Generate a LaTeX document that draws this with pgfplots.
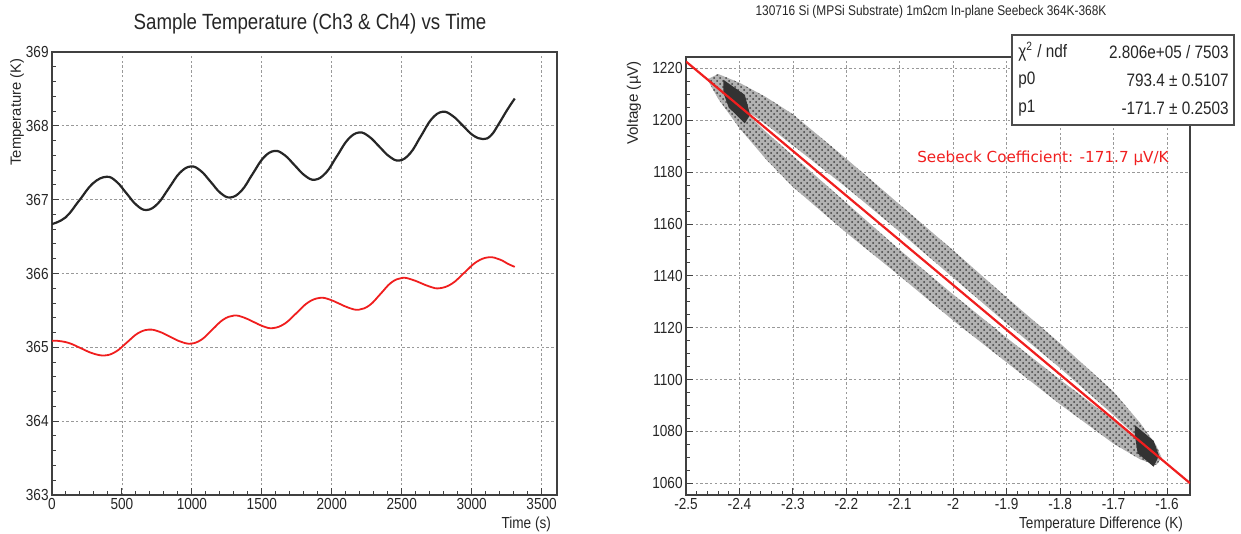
\documentclass[border=0pt]{standalone}
\usepackage{fontspec}
\setmainfont{Liberation Sans}[FakeStretch=0.85]
\newfontfamily\plainsans{Liberation Sans}
\newfontfamily\dejavu{DejaVu Sans}
\usepackage{pgfplots}
\pgfplotsset{compat=1.18}
\usetikzlibrary{patterns}
\definecolor{rootred}{RGB}{240,30,30}
\pgfplotsset{rootstyle/.style={
  scale only axis, anchor=south west,
  axis line style={black!75, line width=0.7pt},
  tick align=inside, xtick pos=lower, ytick pos=left,
  major tick length=3.6pt, minor tick length=1.8pt,
  every tick/.style={black!75, line width=0.5pt},
  grid=major,
  major grid style={black!40, line width=0.4pt, dash pattern=on 1.2pt off 1.2pt},
  tick label style={font=\fontsize{8}{9}\selectfont, text=black!85},
  xticklabel style={inner sep=1.5pt},
  yticklabel style={inner sep=1.5pt},
}}
\pgfplotstableread{
x y
-2.46 1215.78
-2.44 1217.85
-2.40 1214.48
-2.35 1208.90
-2.30 1202.31
-2.20 1185.14
-2.10 1167.47
-2.00 1149.80
-1.90 1131.63
-1.80 1113.96
-1.70 1095.29
-1.65 1083.21
-1.62 1074.55
-1.61 1069.84
-1.65 1076.71
-1.70 1086.29
-1.80 1104.46
-1.90 1121.63
-2.00 1139.30
-2.10 1156.97
-2.20 1174.14
-2.30 1190.31
-2.35 1198.40
-2.40 1205.48
-2.46 1215.78
}\upperband
\pgfplotstableread{
x y
-2.46 1215.78
-2.40 1205.48
-2.35 1195.40
-2.30 1186.31
-2.20 1168.14
-2.10 1149.97
-2.00 1132.80
-1.90 1116.13
-1.80 1099.96
-1.70 1084.29
-1.65 1076.71
-1.61 1069.84
-1.62 1067.05
-1.65 1069.21
-1.70 1075.29
-1.80 1090.46
-1.90 1106.63
-2.00 1122.80
-2.10 1139.97
-2.20 1156.64
-2.30 1174.31
-2.35 1184.90
-2.40 1196.98
-2.44 1208.35
-2.46 1215.78
}\lowerband
\begin{document}
\begin{tikzpicture}
\path[use as bounding box] (0,0) rectangle (620.5pt,267pt);
% ---------------- left panel ----------------
\begin{axis}[rootstyle, at={(26pt,19.5pt)}, width=252.5pt, height=221.5pt,
  xmin=0, xmax=3610, ymin=363, ymax=369,
  xtick={0,500,1000,1500,2000,2500,3000,3500},
  xticklabels={0,500,1000,1500,2000,2500,3000,3500},
  ytick={363,364,365,366,367,368,369},
  yticklabels={363,364,365,366,367,368,369},
  minor x tick num=4, minor y tick num=4]
\addplot[smooth, tension=0.7, black!85, line width=1.1pt] coordinates {
(0,366.67) (97,366.76) (195,366.99) (292,367.22) (389,367.31)
(461,367.244) (533,367.085) (605,366.926) (677,366.86)
(756,366.946) (835,367.155) (914,367.364) (993,367.45)
(1064,367.389) (1135,367.24) (1205,367.09) (1276,367.03)
(1355,367.122) (1433,367.345) (1512,367.568) (1591,367.66)
(1663,367.603) (1735,367.465) (1807,367.327) (1879,367.27)
(1958,367.364) (2037,367.59) (2116,367.816) (2195,367.91)
(2267,367.854) (2339,367.72) (2411,367.586) (2483,367.53)
(2560,367.627) (2637,367.86) (2714,368.093) (2791,368.19)
(2863,368.136) (2936,368.005) (3008,367.874) (3081,367.82)
(3138,367.87) (3195,368.03) (3252,368.21) (3308,368.37)};
\addplot[smooth, tension=0.7, rootred, line width=0.9pt] coordinates {
(0,365.085) (30,365.09) (117,365.061) (204,364.99) (290,364.919) (377,364.89)
(456,364.941) (535,365.065) (613,365.189) (692,365.24)
(767,365.212) (843,365.145) (918,365.078) (993,365.05)
(1070,365.106) (1146,365.24) (1223,365.374) (1300,365.43)
(1370,365.405) (1440,365.345) (1509,365.285) (1579,365.26)
(1663,365.32) (1748,365.465) (1832,365.61) (1916,365.67)
(1986,365.647) (2055,365.59) (2125,365.533) (2195,365.51)
(2272,365.573) (2349,365.725) (2425,365.877) (2502,365.94)
(2569,365.92) (2637,365.87) (2704,365.82) (2771,365.80)
(2859,365.862) (2947,366.01) (3035,366.158) (3123,366.22)
(3200,366.19) (3260,366.13) (3308,366.09)};
\end{axis}
\node[font=\fontsize{11}{12}\selectfont, text=black!85] at (155pt,255pt) {Sample Temperature (Ch3 \& Ch4) vs Time};
\node[font=\plainsans\fontsize{7.4}{8}\selectfont, rotate=90, text=black!85] at (8.5pt,211pt) {Temperature (K)};
\node[font=\fontsize{8}{9}\selectfont, anchor=east, text=black!85] at (279pt,5pt) {Time (s)};
% ---------------- right panel ----------------
\begin{axis}[rootstyle, at={(343pt,19.5pt)}, width=252pt, height=219pt,
  xmin=-2.5, xmax=-1.557, ymin=1055.5, ymax=1224.4,
  xtick={-2.5,-2.4,-2.3,-2.2,-2.1,-2.0,-1.9,-1.8,-1.7,-1.6},
  xticklabels={-2.5,-2.4,-2.3,-2.2,-2.1,-2,-1.9,-1.8,-1.7,-1.6},
  ytick={1060,1080,1100,1120,1140,1160,1180,1200,1220},
  yticklabels={1060,1080,1100,1120,1140,1160,1180,1200,1220},
  minor x tick num=4, minor y tick num=3]
% the two bands of the scatter, each filled and speckled
\addplot[draw=none, fill=black!30] table[x=x, y=y] {\upperband} -- cycle;
\addplot[draw=none, pattern=crosshatch dots, pattern color=black!75] table[x=x, y=y] {\upperband} -- cycle;
\addplot[draw=none, fill=black!30] table[x=x, y=y] {\lowerband} -- cycle;
\addplot[draw=none, pattern=crosshatch dots, pattern color=black!75] table[x=x, y=y] {\lowerband} -- cycle;
% dense clusters at both ends
\addplot[draw=none, fill=black!80] coordinates {
(-2.43,1215.6) (-2.39,1209.8) (-2.38,1202.1) (-2.39,1198.8) (-2.42,1204.9) (-2.43,1210.6)} -- cycle;
\addplot[draw=none, fill=black!80] coordinates {
(-1.66,1082.4) (-1.625,1076.4) (-1.615,1070.7) (-1.625,1066.4) (-1.655,1071.6) (-1.66,1078.4)} -- cycle;
% fit line
\addplot[rootred, line width=1.1pt] coordinates {(-2.5,1222.65) (-1.557,1060.06)};
\end{axis}
\node[font=\fontsize{7}{8}\selectfont, text=black!85] at (465.5pt,261pt) {130716 Si (MPSi Substrate) 1m\symbol{"03A9}cm In-plane Seebeck 364K-368K};
\node[font=\plainsans\fontsize{7.6}{8}\selectfont, rotate=90, text=black!85] at (317pt,215.5pt) {Voltage (\symbol{"00B5}V)};
\node[font=\fontsize{8}{9}\selectfont, anchor=east, text=black!85] at (595pt,5pt) {Temperature Difference (K)};
\node[font=\dejavu\fontsize{7.6}{8}\selectfont, text=rootred] at (521.5pt,188pt) {Seebeck Coefficient: -171.7 \symbol{"00B5}V/K};
% statistics box
\draw[black!70, fill=white, line width=0.6pt] (506pt,249.5pt) rectangle (617pt,204.5pt);
\begin{scope}[every node/.style={font=\fontsize{9}{10}\selectfont, text=black!85, inner sep=0pt}]
\node[anchor=west] at (509pt,241.2pt) {χ\textsuperscript{2} / ndf};
\node[anchor=east] at (614.5pt,241.2pt) {2.806e+05 / 7503};
\node[anchor=west] at (509pt,227pt) {p0};
\node[anchor=east] at (614.5pt,227pt) {793.4 \symbol{"00B1} 0.5107};
\node[anchor=west] at (509pt,213pt) {p1};
\node[anchor=east] at (614.5pt,213pt) {-171.7 \symbol{"00B1} 0.2503};
\end{scope}
\end{tikzpicture}
\end{document}
